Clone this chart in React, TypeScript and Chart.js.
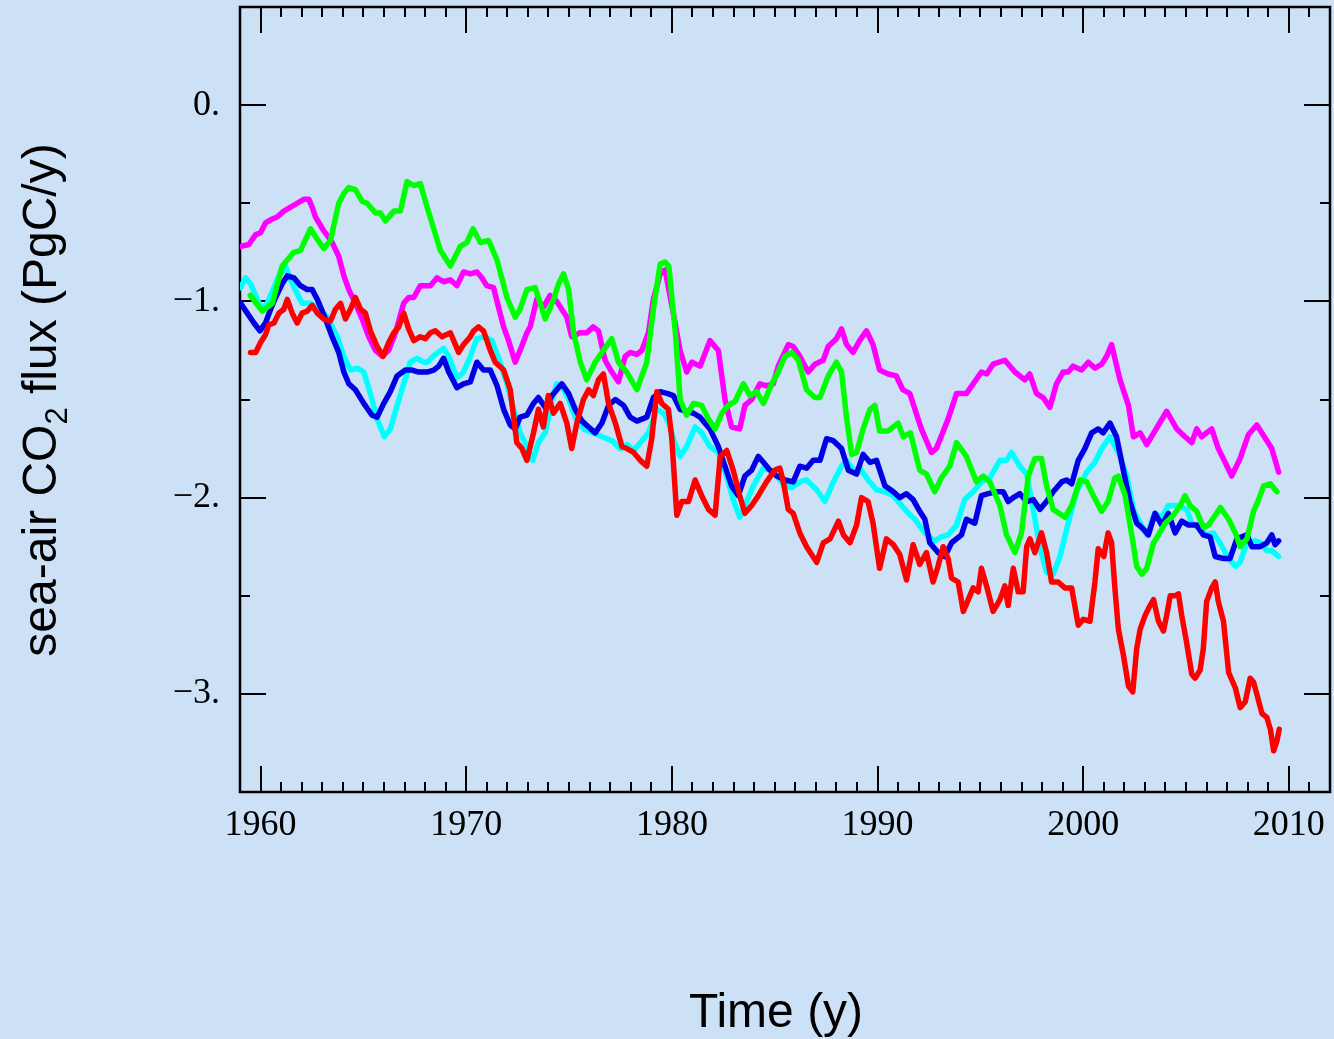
import { useEffect, useRef } from 'react';
import { Chart, registerables } from 'chart.js';

Chart.register(...registerables);

// ---- axis settings / tick labels ----
const yearRange = [1959, 2012];
const fluxRange = [-3.5, 0.5];
const yearLabels = [1960, 1970, 1980, 1990, 2000, 2010];
const fluxLabels = [0, -1, -2, -3];
const xTitle = 'Time (y)';
const yTitleParts = ['sea-air CO', '2', ' flux (PgC/y)'];

// ---- series: [year, sea-air CO2 flux (PgC/y)] ----
const redSeries = [
  [1959.51,-1.26],[1959.76,-1.26],[1960.0,-1.21],[1960.24,-1.17],[1960.4,-1.12],[1960.65,-1.11],[1960.89,-1.06],[1961.13,-1.04],[1961.3,-0.99],[1961.54,-1.06],[1961.78,-1.11],[1962.02,-1.06],[1962.27,-1.05],[1962.51,-1.02],[1962.76,-1.06],[1963.07,-1.09],[1963.4,-1.10],[1963.64,-1.04],[1963.89,-1.01],[1964.13,-1.09],[1964.37,-1.04],[1964.61,-0.98],[1964.86,-1.04],[1965.1,-1.06],[1965.34,-1.15],[1965.67,-1.23],[1965.96,-1.28],[1966.23,-1.21],[1966.48,-1.16],[1966.72,-1.13],[1966.96,-1.06],[1967.2,-1.14],[1967.45,-1.20],[1967.77,-1.18],[1968.01,-1.19],[1968.26,-1.16],[1968.5,-1.15],[1968.82,-1.18],[1969.23,-1.16],[1969.63,-1.26],[1969.87,-1.22],[1970.2,-1.18],[1970.36,-1.15],[1970.6,-1.13],[1970.84,-1.15],[1971.17,-1.25],[1971.41,-1.31],[1971.82,-1.35],[1972.14,-1.45],[1972.46,-1.72],[1972.71,-1.75],[1972.95,-1.81],[1973.27,-1.67],[1973.51,-1.55],[1973.75,-1.64],[1973.99,-1.48],[1974.24,-1.57],[1974.57,-1.52],[1974.89,-1.62],[1975.13,-1.75],[1975.38,-1.62],[1975.7,-1.50],[1975.95,-1.45],[1976.18,-1.48],[1976.43,-1.40],[1976.67,-1.37],[1976.92,-1.52],[1977.25,-1.62],[1977.57,-1.74],[1977.81,-1.75],[1978.14,-1.77],[1978.46,-1.81],[1978.78,-1.84],[1979.02,-1.70],[1979.27,-1.46],[1979.51,-1.52],[1979.83,-1.55],[1979.99,-1.69],[1980.24,-2.09],[1980.48,-2.02],[1980.81,-2.02],[1981.13,-1.91],[1981.45,-1.99],[1981.78,-2.06],[1982.1,-2.09],[1982.35,-1.79],[1982.67,-1.76],[1982.98,-1.86],[1983.3,-1.99],[1983.55,-2.08],[1983.88,-2.04],[1984.2,-1.99],[1984.6,-1.92],[1985.0,-1.86],[1985.25,-1.85],[1985.42,-1.92],[1985.66,-2.06],[1985.9,-2.08],[1986.22,-2.18],[1986.55,-2.25],[1987.04,-2.33],[1987.36,-2.23],[1987.69,-2.21],[1988.1,-2.12],[1988.34,-2.19],[1988.66,-2.23],[1988.98,-2.14],[1989.22,-2.0],[1989.54,-2.02],[1989.78,-2.13],[1990.1,-2.36],[1990.43,-2.21],[1990.77,-2.24],[1991.08,-2.29],[1991.41,-2.42],[1991.73,-2.24],[1992.05,-2.34],[1992.38,-2.28],[1992.7,-2.43],[1992.94,-2.35],[1993.19,-2.25],[1993.43,-2.31],[1993.6,-2.41],[1993.92,-2.43],[1994.17,-2.58],[1994.41,-2.52],[1994.65,-2.46],[1994.89,-2.48],[1995.05,-2.36],[1995.3,-2.45],[1995.62,-2.58],[1995.95,-2.52],[1996.19,-2.45],[1996.35,-2.55],[1996.6,-2.36],[1996.84,-2.48],[1997.08,-2.48],[1997.25,-2.25],[1997.41,-2.21],[1997.65,-2.28],[1997.97,-2.18],[1998.22,-2.28],[1998.46,-2.43],[1998.78,-2.43],[1999.11,-2.46],[1999.44,-2.46],[1999.76,-2.65],[2000.0,-2.62],[2000.33,-2.63],[2000.57,-2.43],[2000.73,-2.26],[2001.0,-2.30],[2001.21,-2.18],[2001.38,-2.23],[2001.54,-2.46],[2001.71,-2.67],[2001.95,-2.80],[2002.2,-2.96],[2002.41,-2.99],[2002.6,-2.77],[2002.77,-2.67],[2003.01,-2.60],[2003.25,-2.55],[2003.42,-2.52],[2003.66,-2.63],[2003.9,-2.68],[2004.06,-2.60],[2004.23,-2.50],[2004.47,-2.50],[2004.63,-2.49],[2004.79,-2.60],[2005.03,-2.74],[2005.28,-2.90],[2005.44,-2.92],[2005.68,-2.88],[2005.84,-2.77],[2006.0,-2.53],[2006.25,-2.46],[2006.42,-2.43],[2006.57,-2.53],[2006.82,-2.63],[2007.07,-2.89],[2007.4,-2.97],[2007.63,-3.07],[2007.88,-3.04],[2008.12,-2.92],[2008.28,-2.94],[2008.44,-3.00],[2008.69,-3.10],[2008.93,-3.12],[2009.1,-3.18],[2009.26,-3.29],[2009.42,-3.24],[2009.53,-3.18],
];

const greenSeries = [
  [1959.5,-0.97],[1960.08,-1.05],[1960.57,-1.01],[1961.05,-0.82],[1961.62,-0.75],[1961.94,-0.74],[1962.43,-0.63],[1962.67,-0.67],[1963.07,-0.73],[1963.4,-0.69],[1963.8,-0.50],[1964.05,-0.45],[1964.29,-0.42],[1964.61,-0.43],[1964.94,-0.49],[1965.18,-0.50],[1965.59,-0.55],[1965.83,-0.55],[1966.07,-0.59],[1966.48,-0.54],[1966.8,-0.54],[1967.12,-0.39],[1967.45,-0.41],[1967.77,-0.40],[1968.1,-0.52],[1968.42,-0.63],[1968.74,-0.74],[1969.23,-0.82],[1969.71,-0.72],[1970.03,-0.70],[1970.33,-0.63],[1970.69,-0.70],[1971.09,-0.69],[1971.5,-0.79],[1971.98,-0.98],[1972.38,-1.08],[1972.62,-1.04],[1972.95,-0.94],[1973.35,-0.93],[1973.6,-1.01],[1973.84,-1.09],[1974.25,-0.99],[1974.49,-0.91],[1974.73,-0.86],[1974.98,-0.94],[1975.22,-1.16],[1975.55,-1.31],[1975.86,-1.40],[1976.27,-1.31],[1976.67,-1.25],[1977.08,-1.19],[1977.4,-1.31],[1977.8,-1.36],[1978.3,-1.45],[1978.78,-1.31],[1979.1,-1.04],[1979.43,-0.81],[1979.67,-0.80],[1979.85,-0.82],[1980.17,-1.16],[1980.4,-1.50],[1980.72,-1.58],[1981.05,-1.52],[1981.45,-1.53],[1981.78,-1.60],[1982.1,-1.65],[1982.43,-1.57],[1982.75,-1.53],[1983.07,-1.51],[1983.48,-1.42],[1983.8,-1.48],[1984.12,-1.46],[1984.45,-1.52],[1984.86,-1.42],[1985.17,-1.36],[1985.5,-1.28],[1985.82,-1.26],[1986.15,-1.30],[1986.55,-1.45],[1986.95,-1.49],[1987.2,-1.49],[1987.6,-1.38],[1988.0,-1.31],[1988.25,-1.36],[1988.49,-1.59],[1988.74,-1.78],[1988.98,-1.77],[1989.3,-1.65],[1989.63,-1.55],[1989.87,-1.53],[1990.1,-1.66],[1990.51,-1.66],[1991.0,-1.62],[1991.25,-1.69],[1991.6,-1.67],[1992.05,-1.86],[1992.38,-1.88],[1992.78,-1.97],[1993.1,-1.90],[1993.51,-1.84],[1993.84,-1.72],[1994.32,-1.79],[1994.81,-1.92],[1995.14,-1.89],[1995.46,-1.92],[1995.95,-2.04],[1996.27,-2.19],[1996.68,-2.28],[1997.0,-2.18],[1997.33,-1.89],[1997.65,-1.80],[1997.97,-1.80],[1998.22,-1.94],[1998.54,-2.06],[1999.11,-2.10],[1999.44,-2.04],[1999.84,-1.91],[2000.17,-1.92],[2000.49,-1.99],[2000.9,-2.07],[2001.21,-2.02],[2001.54,-1.90],[2001.71,-1.89],[2002.04,-1.99],[2002.36,-2.19],[2002.6,-2.35],[2002.85,-2.39],[2003.09,-2.36],[2003.42,-2.23],[2003.66,-2.19],[2003.99,-2.13],[2004.39,-2.09],[2004.72,-2.04],[2004.95,-1.99],[2005.2,-2.04],[2005.52,-2.07],[2005.84,-2.15],[2006.09,-2.14],[2006.42,-2.09],[2006.67,-2.05],[2007.07,-2.11],[2007.4,-2.18],[2007.63,-2.25],[2007.96,-2.21],[2008.28,-2.07],[2008.53,-2.01],[2008.77,-1.94],[2009.1,-1.93],[2009.42,-1.97],
];

const magentaSeries = [
  [1959.03,-0.72],[1959.43,-0.71],[1959.76,-0.66],[1960.0,-0.65],[1960.24,-0.60],[1960.57,-0.58],[1960.81,-0.57],[1961.13,-0.54],[1961.46,-0.52],[1961.78,-0.50],[1962.1,-0.48],[1962.35,-0.48],[1962.51,-0.52],[1962.67,-0.57],[1963.07,-0.64],[1963.48,-0.70],[1963.8,-0.77],[1964.05,-0.87],[1964.29,-0.94],[1964.61,-1.01],[1964.94,-1.09],[1965.26,-1.18],[1965.59,-1.25],[1965.91,-1.28],[1966.23,-1.25],[1966.56,-1.16],[1966.96,-1.01],[1967.2,-0.98],[1967.45,-0.98],[1967.77,-0.92],[1968.26,-0.92],[1968.58,-0.88],[1968.9,-0.90],[1969.23,-0.89],[1969.55,-0.92],[1969.87,-0.85],[1970.2,-0.86],[1970.52,-0.85],[1970.76,-0.88],[1971.0,-0.92],[1971.33,-0.93],[1971.57,-1.03],[1971.82,-1.13],[1972.06,-1.20],[1972.38,-1.31],[1972.62,-1.25],[1972.95,-1.16],[1973.11,-1.13],[1973.43,-0.99],[1973.75,-1.03],[1974.08,-0.97],[1974.4,-1.00],[1974.89,-1.08],[1975.13,-1.18],[1975.53,-1.16],[1975.86,-1.16],[1976.18,-1.13],[1976.43,-1.15],[1976.75,-1.30],[1977.08,-1.36],[1977.4,-1.41],[1977.73,-1.28],[1977.97,-1.26],[1978.3,-1.27],[1978.54,-1.25],[1978.86,-1.16],[1979.1,-0.99],[1979.43,-0.86],[1979.67,-0.84],[1980.07,-1.06],[1980.4,-1.25],[1980.72,-1.36],[1980.97,-1.31],[1981.37,-1.33],[1981.85,-1.20],[1982.26,-1.25],[1982.58,-1.50],[1982.9,-1.64],[1983.3,-1.65],[1983.55,-1.53],[1983.88,-1.50],[1984.28,-1.42],[1984.6,-1.43],[1984.93,-1.42],[1985.17,-1.33],[1985.66,-1.22],[1985.9,-1.23],[1986.22,-1.28],[1986.63,-1.36],[1986.95,-1.32],[1987.36,-1.30],[1987.6,-1.23],[1988.0,-1.19],[1988.25,-1.14],[1988.49,-1.22],[1988.81,-1.26],[1989.13,-1.20],[1989.46,-1.15],[1989.78,-1.22],[1990.1,-1.35],[1990.51,-1.37],[1990.91,-1.38],[1991.23,-1.45],[1991.57,-1.47],[1992.13,-1.65],[1992.62,-1.77],[1992.86,-1.75],[1993.43,-1.60],[1993.84,-1.47],[1994.32,-1.47],[1995.05,-1.36],[1995.3,-1.37],[1995.62,-1.32],[1996.19,-1.30],[1996.68,-1.36],[1997.16,-1.40],[1997.4,-1.37],[1997.73,-1.47],[1998.05,-1.49],[1998.38,-1.54],[1998.7,-1.42],[1999.02,-1.36],[1999.27,-1.36],[1999.51,-1.33],[1999.92,-1.35],[2000.25,-1.31],[2000.57,-1.34],[2000.9,-1.32],[2001.14,-1.28],[2001.38,-1.22],[2001.79,-1.40],[2002.2,-1.53],[2002.44,-1.69],[2002.77,-1.67],[2003.09,-1.73],[2003.66,-1.63],[2004.06,-1.56],[2004.55,-1.65],[2004.95,-1.69],[2005.28,-1.72],[2005.52,-1.65],[2005.76,-1.69],[2006.25,-1.65],[2006.57,-1.75],[2006.9,-1.82],[2007.22,-1.89],[2007.63,-1.80],[2008.03,-1.68],[2008.44,-1.63],[2008.93,-1.71],[2009.17,-1.75],[2009.5,-1.87],
];

const blueSeries = [
  [1959.03,-1.01],[1959.35,-1.06],[1959.68,-1.11],[1959.97,-1.15],[1960.24,-1.11],[1960.49,-1.04],[1960.73,-0.98],[1961.05,-0.91],[1961.3,-0.87],[1961.62,-0.88],[1961.94,-0.92],[1962.27,-0.94],[1962.51,-0.94],[1962.76,-0.99],[1963.16,-1.09],[1963.48,-1.18],[1963.8,-1.26],[1964.05,-1.36],[1964.29,-1.42],[1964.61,-1.45],[1965.02,-1.52],[1965.42,-1.58],[1965.67,-1.59],[1965.99,-1.52],[1966.31,-1.46],[1966.64,-1.38],[1967.04,-1.35],[1967.36,-1.35],[1967.69,-1.36],[1968.1,-1.36],[1968.42,-1.35],[1968.66,-1.33],[1968.9,-1.29],[1969.15,-1.36],[1969.55,-1.44],[1969.87,-1.42],[1970.2,-1.41],[1970.52,-1.31],[1970.84,-1.35],[1971.17,-1.35],[1971.5,-1.43],[1971.82,-1.55],[1972.14,-1.63],[1972.38,-1.65],[1972.62,-1.59],[1972.95,-1.58],[1973.27,-1.52],[1973.51,-1.49],[1973.84,-1.54],[1974.17,-1.48],[1974.65,-1.42],[1974.98,-1.47],[1975.3,-1.55],[1975.63,-1.61],[1975.95,-1.64],[1976.27,-1.67],[1976.6,-1.62],[1976.92,-1.53],[1977.25,-1.50],[1977.65,-1.53],[1977.97,-1.59],[1978.3,-1.61],[1978.78,-1.59],[1979.1,-1.49],[1979.43,-1.46],[1979.8,-1.47],[1980.07,-1.48],[1980.4,-1.55],[1980.72,-1.56],[1981.05,-1.57],[1981.37,-1.59],[1981.85,-1.65],[1982.26,-1.74],[1982.58,-1.84],[1982.9,-1.94],[1983.23,-1.99],[1983.55,-1.89],[1983.88,-1.86],[1984.2,-1.79],[1984.45,-1.82],[1984.77,-1.86],[1985.1,-1.89],[1985.5,-1.91],[1985.9,-1.92],[1986.22,-1.84],[1986.55,-1.85],[1986.87,-1.81],[1987.2,-1.81],[1987.52,-1.70],[1987.85,-1.71],[1988.25,-1.75],[1988.58,-1.86],[1988.98,-1.88],[1989.3,-1.78],[1989.63,-1.82],[1989.95,-1.81],[1990.36,-1.94],[1990.77,-1.97],[1991.08,-2.0],[1991.41,-1.98],[1991.73,-2.01],[1992.05,-2.07],[1992.3,-2.11],[1992.54,-2.23],[1992.94,-2.28],[1993.27,-2.30],[1993.6,-2.23],[1994.08,-2.19],[1994.32,-2.11],[1994.73,-2.13],[1995.05,-1.99],[1995.38,-1.98],[1995.78,-1.97],[1996.11,-1.97],[1996.35,-2.02],[1996.6,-2.0],[1996.92,-1.98],[1997.25,-2.02],[1997.57,-2.01],[1997.89,-2.06],[1998.22,-2.02],[1998.54,-1.97],[1998.95,-1.92],[1999.19,-1.91],[1999.44,-1.93],[1999.76,-1.81],[2000.08,-1.75],[2000.41,-1.67],[2000.73,-1.65],[2000.97,-1.67],[2001.3,-1.62],[2001.62,-1.69],[2001.95,-1.86],[2002.27,-2.02],[2002.6,-2.13],[2002.92,-2.16],[2003.17,-2.19],[2003.49,-2.08],[2003.82,-2.14],[2004.14,-2.08],[2004.47,-2.18],[2004.79,-2.12],[2005.12,-2.14],[2005.52,-2.14],[2005.84,-2.19],[2006.17,-2.20],[2006.42,-2.30],[2006.82,-2.31],[2007.14,-2.31],[2007.47,-2.21],[2007.96,-2.19],[2008.2,-2.25],[2008.6,-2.25],[2008.93,-2.23],[2009.17,-2.19],[2009.33,-2.24],[2009.5,-2.22],
];

const cyanSeries = [
  [1959.03,-0.93],[1959.27,-0.88],[1959.51,-0.91],[1959.84,-0.99],[1960.08,-1.04],[1960.32,-1.01],[1960.65,-0.93],[1960.89,-0.87],[1961.21,-0.82],[1961.46,-0.89],[1961.78,-0.96],[1962.02,-1.01],[1962.43,-1.01],[1962.76,-1.03],[1963.24,-1.08],[1963.73,-1.18],[1964.05,-1.28],[1964.37,-1.35],[1964.7,-1.34],[1965.02,-1.36],[1965.34,-1.47],[1965.67,-1.60],[1966.02,-1.69],[1966.31,-1.65],[1966.64,-1.53],[1966.96,-1.42],[1967.28,-1.31],[1967.61,-1.29],[1967.93,-1.31],[1968.1,-1.31],[1968.5,-1.27],[1968.9,-1.24],[1969.15,-1.28],[1969.55,-1.39],[1969.87,-1.36],[1970.2,-1.28],[1970.52,-1.19],[1970.92,-1.18],[1971.25,-1.20],[1971.65,-1.31],[1971.98,-1.42],[1972.3,-1.55],[1972.62,-1.67],[1972.95,-1.74],[1973.24,-1.81],[1973.51,-1.72],[1973.84,-1.67],[1974.17,-1.50],[1974.4,-1.42],[1974.65,-1.43],[1974.98,-1.50],[1975.3,-1.59],[1975.7,-1.65],[1976.18,-1.67],[1976.6,-1.69],[1977.08,-1.71],[1977.49,-1.75],[1977.81,-1.73],[1978.14,-1.76],[1978.46,-1.72],[1978.86,-1.67],[1979.27,-1.55],[1979.6,-1.57],[1979.85,-1.62],[1980.07,-1.70],[1980.4,-1.79],[1980.72,-1.74],[1981.13,-1.64],[1981.45,-1.67],[1981.85,-1.74],[1982.26,-1.77],[1982.66,-1.89],[1982.98,-2.01],[1983.3,-2.10],[1983.63,-2.02],[1983.96,-1.94],[1984.45,-1.85],[1984.77,-1.86],[1985.1,-1.89],[1985.42,-1.93],[1985.82,-1.95],[1986.22,-1.92],[1986.55,-1.91],[1987.04,-1.96],[1987.44,-2.02],[1987.85,-1.92],[1988.25,-1.84],[1988.49,-1.81],[1988.81,-1.86],[1989.13,-1.85],[1989.54,-1.91],[1989.95,-1.96],[1990.36,-1.97],[1990.77,-1.99],[1991.25,-2.05],[1991.6,-2.09],[1991.81,-2.11],[1992.3,-2.18],[1992.78,-2.22],[1993.1,-2.20],[1993.43,-2.19],[1993.84,-2.14],[1994.24,-2.01],[1994.65,-1.97],[1995.05,-1.92],[1995.46,-1.90],[1995.95,-1.81],[1996.27,-1.81],[1996.52,-1.77],[1996.92,-1.84],[1997.25,-1.88],[1997.57,-2.06],[1997.89,-2.25],[1998.22,-2.38],[1998.54,-2.39],[1998.87,-2.30],[1999.27,-2.13],[1999.68,-1.97],[2000.17,-1.87],[2000.57,-1.82],[2000.9,-1.75],[2001.3,-1.69],[2001.75,-1.78],[2002.12,-1.89],[2002.44,-2.06],[2002.77,-2.13],[2003.09,-2.19],[2003.49,-2.08],[2003.82,-2.10],[2004.14,-2.04],[2004.55,-2.04],[2005.03,-2.06],[2005.28,-2.13],[2005.68,-2.16],[2006.0,-2.19],[2006.33,-2.18],[2006.65,-2.23],[2007.07,-2.31],[2007.4,-2.35],[2007.63,-2.33],[2007.96,-2.23],[2008.36,-2.22],[2008.6,-2.23],[2008.93,-2.27],[2009.17,-2.27],[2009.5,-2.30],
];

const seriesList = [
  { name: 'red', color: '#ff0000', data: redSeries },
  { name: 'green', color: '#00ff00', data: greenSeries },
  { name: 'magenta', color: '#ff00ff', data: magentaSeries },
  { name: 'blue', color: '#0000e6', data: blueSeries },
  { name: 'cyan', color: '#00ffff', data: cyanSeries },
];

const BG = '#cce1f6';
const SANS = '"Liberation Sans", Arial, sans-serif';
const SERIF = '"Liberation Serif", "Times New Roman", serif';

const framePlugin = {
  id: 'framePlugin',
  beforeDraw(chart: any) {
    const { ctx, width, height } = chart;
    ctx.save();
    ctx.fillStyle = BG;
    ctx.fillRect(0, 0, width, height);
    ctx.restore();
  },
  beforeDatasetsDraw(chart: any) {
    const { ctx, chartArea } = chart;
    const { left, right, top, bottom } = chartArea;
    const xs = chart.scales.x;
    const ys = chart.scales.y;
    ctx.save();
    ctx.strokeStyle = '#000';
    ctx.lineWidth = 2;
    ctx.beginPath();
    for (const t of xs.ticks) {
      const v = t.value;
      if (v <= yearRange[0] || v >= yearRange[1]) continue;
      const px = Math.round(xs.getPixelForValue(v));
      const len = yearLabels.includes(v) ? 26 : 10;
      ctx.moveTo(px, bottom);
      ctx.lineTo(px, bottom - len);
      ctx.moveTo(px, top);
      ctx.lineTo(px, top + len);
    }
    for (const t of ys.ticks) {
      const v = t.value;
      if (v <= fluxRange[0] || v >= fluxRange[1]) continue;
      const py = Math.round(ys.getPixelForValue(v));
      const len = fluxLabels.includes(v) ? 26 : 10;
      ctx.moveTo(left, py);
      ctx.lineTo(left + len, py);
      ctx.moveTo(right, py);
      ctx.lineTo(right - len, py);
    }
    ctx.stroke();
    ctx.lineWidth = 2.5;
    ctx.strokeRect(left, top, right - left, bottom - top);
    ctx.restore();
  },
  afterDraw(chart: any) {
    const { ctx, chartArea } = chart;
    ctx.save();
    ctx.fillStyle = '#000';
    // x title
    ctx.font = `48px ${SANS}`;
    ctx.textAlign = 'center';
    ctx.textBaseline = 'alphabetic';
    ctx.fillText(xTitle, (chartArea.left + chartArea.right) / 2 - 9, 1027);
    // y title with subscript
    const big = `48px ${SANS}`;
    const small = `31px ${SANS}`;
    ctx.font = big;
    const w0 = ctx.measureText(yTitleParts[0]).width;
    const w2 = ctx.measureText(yTitleParts[2]).width;
    ctx.font = small;
    const w1 = ctx.measureText(yTitleParts[1]).width;
    const total = w0 + w1 + w2;
    const cy = 400;
    ctx.translate(56, cy);
    ctx.rotate(-Math.PI / 2);
    ctx.textAlign = 'left';
    let x = -total / 2;
    ctx.font = big;
    ctx.fillText(yTitleParts[0], x, 0);
    x += w0;
    ctx.font = small;
    ctx.fillText(yTitleParts[1], x, 11);
    x += w1;
    ctx.font = big;
    ctx.fillText(yTitleParts[2], x, 0);
    ctx.restore();
  },
};

export default function App() {
  const ref = useRef<HTMLCanvasElement | null>(null);
  useEffect(() => {
    if (!ref.current) return;
    const chart = new Chart(ref.current, {
      type: 'line',
      data: {
        datasets: seriesList.map((s) => ({
          label: s.name,
          data: s.data.map(([x, y]) => ({ x, y })),
          borderColor: s.color,
          backgroundColor: s.color,
          borderWidth: 5.5,
          pointRadius: 0,
          tension: 0,
          fill: false,
          borderJoinStyle: 'round' as const,
          borderCapStyle: 'round' as const,
        })),
      },
      options: {
        responsive: false,
        animation: false,
        devicePixelRatio: 1,
        layout: { padding: { left: 0, right: 4, top: 7, bottom: 0 } },
        plugins: { legend: { display: false }, tooltip: { enabled: false } },
        scales: {
          x: {
            type: 'linear',
            min: yearRange[0],
            max: yearRange[1],
            grid: { display: false },
            border: { display: false },
            ticks: {
              stepSize: 1,
              autoSkip: false,
              maxRotation: 0,
              padding: 4,
              color: '#000',
              font: { family: SERIF, size: 36 },
              callback: (v: any) => (yearLabels.includes(Number(v)) ? String(v) : ''),
            },
            afterFit: (s: any) => {
              s.height = 247;
              s.paddingLeft = 0;
              s.paddingRight = 0;
              s.paddingTop = 0;
              s.paddingBottom = 0;
            },
          },
          y: {
            type: 'linear',
            min: fluxRange[0],
            max: fluxRange[1],
            grid: { display: false },
            border: { display: false },
            ticks: {
              stepSize: 0.5,
              autoSkip: false,
              padding: 12,
              color: '#000',
              font: { family: SERIF, size: 36 },
              callback: (v: any) => {
                const n = Number(v);
                if (!fluxLabels.includes(n)) return '';
                return (n < 0 ? '\u2212' + Math.abs(n) : String(n)) + '.';
              },
            },
            afterFit: (s: any) => {
              s.width = 240;
              s.paddingLeft = 0;
              s.paddingRight = 0;
              s.paddingTop = 0;
              s.paddingBottom = 0;
            },
          },
        },
      },
      plugins: [framePlugin],
    });
    return () => chart.destroy();
  }, []);
  return (
    <div style={{ position: 'absolute', left: 0, top: 0, width: 1334, height: 1039, background: BG }}>
      <canvas ref={ref} width={1334} height={1039} style={{ display: 'block' }} />
    </div>
  );
}
